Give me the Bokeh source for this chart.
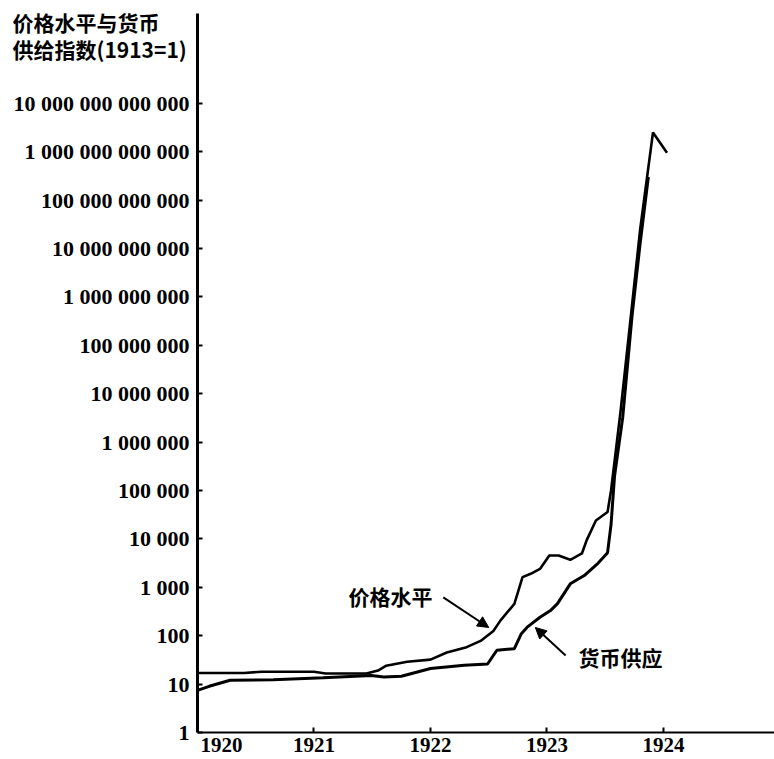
from bokeh.plotting import figure
from bokeh.models import (Range1d, FixedTicker, CustomJSTickFormatter, Label,
                          Arrow, NormalHead)
from bokeh.embed import file_html
from bokeh.resources import INLINE

# ---- data (index, 1913 = 1) ----
price_year = [1920.00, 1920.40, 1920.55, 1921.00, 1921.10, 1921.45, 1921.55, 1921.62,
              1921.80, 1922.00, 1922.14, 1922.31, 1922.43, 1922.54, 1922.60, 1922.72,
              1922.79, 1922.86, 1922.94, 1923.02, 1923.10, 1923.20, 1923.30, 1923.34,
              1923.42, 1923.52, 1923.55, 1923.63, 1923.72, 1923.80, 1923.91, 1924.03]
price_index = [17, 17, 18, 18, 16.5, 16.5, 19, 24,
               29, 32, 45, 58, 78, 125, 205, 455,
               1620, 1900, 2400, 4550, 4550, 3700, 5000, 9300,
               24000, 36000, 1e5, 4e6, 4e8, 2.5e10, 2.5e12, 9.5e11]

money_year = [1920.00, 1920.10, 1920.28, 1920.65, 1921.08, 1921.49, 1921.60, 1921.75,
              1922.00, 1922.29, 1922.49, 1922.57, 1922.72, 1922.78, 1922.83, 1922.94,
              1923.03, 1923.09, 1923.20, 1923.32, 1923.43, 1923.52, 1923.55, 1923.58,
              1923.65, 1923.73, 1923.80, 1923.87]
money_index = [7.4, 9, 12, 12.3, 13.5, 15, 14, 14.5,
               21, 24.5, 26, 50, 54, 110, 150, 240,
               330, 460, 1180, 1750, 3000, 5200, 2e4, 2e5,
               3.2e6, 4e8, 1.3e10, 3e11]

y_ticks = [10 ** k for k in range(14)]
x_ticks = [1921, 1922, 1923, 1924]
first_year_text = "1920"
title_lines = ["价格水平与货币", "供给指数(1913=1)"]
price_text = "价格水平"
money_text = "货币供应"

# ---- layout / annotation placement (not data) ----
X_START, X_END = 1918.309, 1924.953           # whole canvas width
Y_START, Y_END = 10 ** -0.558, 10 ** 15.124    # whole canvas height
AXIS_X0 = 1920                                  # y axis position
AXIS_Y0 = 1                                     # x axis position
AXIS_Y_TOP = 10 ** 14.855
title_x = 1918.412
title_y = [10 ** 14.69, 10 ** 14.12]
first_year_x = 1920.206
price_text_pos = (1921.657, 10 ** 2.83)
price_arrow = (1922.11, 10 ** 2.79, 1922.50, 10 ** 2.17)
money_text_pos = (1923.63, 10 ** 1.55)
money_arrow = (1923.16, 10 ** 1.59, 1922.90, 10 ** 2.17)

SERIF = "Liberation Serif"
CJK = "Noto Sans CJK SC"

p = figure(width=774, height=759, y_axis_type="log",
           x_range=Range1d(X_START, X_END), y_range=Range1d(Y_START, Y_END),
           output_backend="svg", toolbar_location=None,
           min_border=0, min_border_left=0, min_border_right=0,
           min_border_top=0, min_border_bottom=0)
p.grid.visible = False
p.outline_line_color = None
p.background_fill_color = "white"
p.border_fill_color = "white"

p.line(price_year, price_index, line_color="black", line_width=2.6)
p.line(money_year, money_index, line_color="black", line_width=3)

# y axis (fixed at x = 1920)
ya = p.yaxis[0]
ya.fixed_location = AXIS_X0
ya.bounds = (AXIS_Y0, AXIS_Y_TOP)
ya.ticker = FixedTicker(ticks=y_ticks)
ya.formatter = CustomJSTickFormatter(
    code="return Math.round(tick).toString().replace(/\\B(?=(\\d{3})+(?!\\d))/g, ' ');")
ya.axis_line_width = 3
ya.axis_line_color = "black"
ya.major_tick_in = 5
ya.major_tick_out = 0
ya.major_tick_line_width = 2
ya.minor_tick_line_color = None
ya.major_label_standoff = 8
ya.major_label_text_font = SERIF
ya.major_label_text_font_style = "bold"
ya.major_label_text_font_size = "22px"
ya.major_label_text_color = "black"

# x axis (fixed at y = 1)
xa = p.xaxis[0]
xa.fixed_location = AXIS_Y0
xa.bounds = (AXIS_X0, X_END)
xa.ticker = FixedTicker(ticks=x_ticks)
xa.axis_line_width = 2
xa.axis_line_color = "black"
xa.major_tick_in = 5
xa.major_tick_out = 0
xa.major_tick_line_width = 2
xa.minor_tick_line_color = None
xa.major_label_standoff = 6
xa.major_label_text_font = SERIF
xa.major_label_text_font_style = "bold"
xa.major_label_text_font_size = "21px"
xa.major_label_text_color = "black"

p.add_layout(Label(x=first_year_x, y=AXIS_Y0, text=first_year_text, text_align="center",
                   text_baseline="top", y_offset=-6, text_font=SERIF,
                   text_font_style="bold", text_font_size="21px", text_color="black"))

for ty, t in zip(title_y, title_lines):
    p.add_layout(Label(x=title_x, y=ty, text=t, text_align="left", text_baseline="middle",
                       text_font=CJK, text_font_style="bold", text_font_size="21px",
                       text_color="black"))

p.add_layout(Label(x=price_text_pos[0], y=price_text_pos[1], text=price_text,
                   text_align="center", text_baseline="middle", text_font=CJK,
                   text_font_style="bold", text_font_size="21px", text_color="black"))
p.add_layout(Label(x=money_text_pos[0], y=money_text_pos[1], text=money_text,
                   text_align="center", text_baseline="middle", text_font=CJK,
                   text_font_style="bold", text_font_size="21px", text_color="black"))

for (x0, y0, x1, y1) in (price_arrow, money_arrow):
    p.add_layout(Arrow(x_start=x0, y_start=y0, x_end=x1, y_end=y1,
                       line_color="black", line_width=2,
                       end=NormalHead(size=11, fill_color="black", line_color="black")))

open("out.html", "w").write(file_html(p, INLINE))
